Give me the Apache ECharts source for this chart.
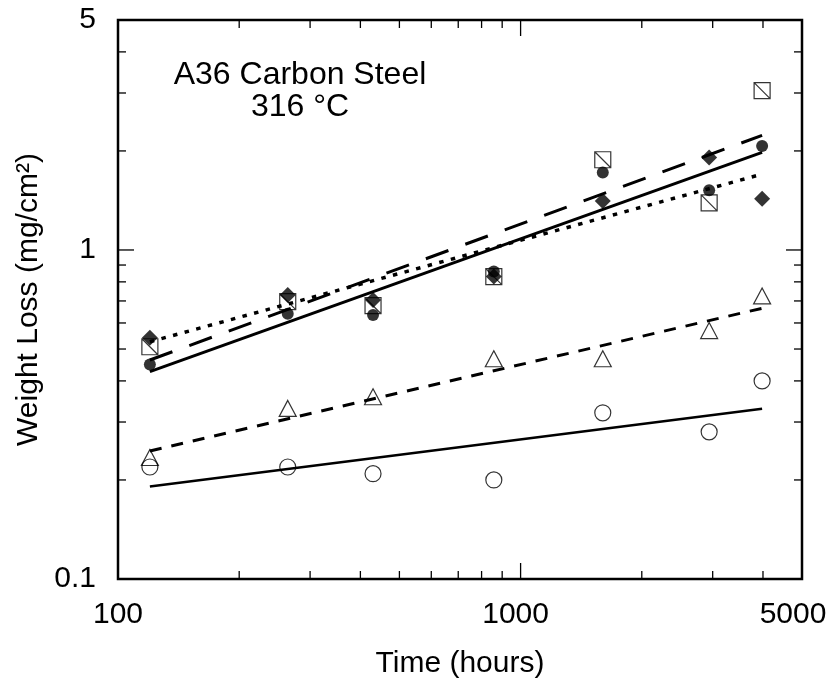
<!DOCTYPE html>
<html><head><meta charset="utf-8">
<script src="https://cdn.jsdelivr.net/npm/echarts@6/dist/echarts.min.js"></script>
<style>html,body{margin:0;padding:0;background:#fff}#c{width:835px;height:687px}</style>
</head><body><div id="c"></div>
<script>
// ---- data ----
const times = [120, 264, 430, 858, 1600, 2940, 3980];
const filledCircle  = [0.449, 0.640, 0.634, 0.86, 1.72, 1.52, 2.07];
const filledDiamond = [0.541, 0.730, 0.705, 0.83, 1.41, 1.91, 1.43];
const squareDiag    = [0.508, 0.697, 0.677, 0.83, 1.88, 1.39, 3.05];
const openTriangle  = [0.234, 0.330, 0.358, 0.467, 0.467, 0.569, 0.725];
const openCircle    = [0.219, 0.219, 0.209, 0.200, 0.320, 0.280, 0.400];

const fitTimes = [120, 3980];
const fitFilledCircle  = [0.427, 1.98];  // solid
const fitSquareDiag    = [0.463, 2.23];  // long dash
const fitFilledDiamond = [0.526, 1.70];  // dotted
const fitOpenTriangle  = [0.245, 0.665]; // short dash
const fitOpenCircle    = [0.191, 0.329]; // solid (thin)

const xMajorTicks = [1000];
const xMinorTicks = [200, 300, 400, 500, 600, 700, 800, 900, 2000, 3000, 4000];
const yMajorTicks = [1];
const yMinorTicks = [0.2, 0.3, 0.4, 0.5, 0.6, 0.7, 0.8, 0.9, 2, 3, 4];

const titleLines = ['A36 Carbon Steel', '316 °C'];
const xName = 'Time (hours)';
const yName = 'Weight Loss (mg/cm²)';

// ---- chart ----
const FONT = '"Liberation Sans", Arial, Helvetica, sans-serif';
const chart = echarts.init(document.getElementById('c'), null, {renderer: 'canvas'});
const pairs = (xs, ys) => xs.map((x, i) => [x, ys[i]]);

const tickData = [].concat(
  xMajorTicks.map(v => [v, 1, 0, 16]),
  xMinorTicks.map(v => [v, 1, 0, 8]),
  yMajorTicks.map(v => [1000, v, 1, 16]),
  yMinorTicks.map(v => [1000, v, 1, 8])
);

function renderTick(params, api) {
  const cs = params.coordSys;
  const kind = api.value(2), len = api.value(3);
  const p = api.coord([api.value(0), api.value(1)]);
  const st = {stroke: '#000', lineWidth: 1.3};
  if (kind === 0) {
    const x = p[0], b = cs.y + cs.height, t = cs.y;
    return {type: 'group', children: [
      {type: 'line', shape: {x1: x, y1: b, x2: x, y2: b - len}, style: st},
      {type: 'line', shape: {x1: x, y1: t, x2: x, y2: t + len}, style: st}
    ]};
  }
  const y = p[1], l = cs.x, r = cs.x + cs.width;
  return {type: 'group', children: [
    {type: 'line', shape: {x1: l, y1: y, x2: l + len, y2: y}, style: st},
    {type: 'line', shape: {x1: r, y1: y, x2: r - len, y2: y}, style: st}
  ]};
}

const lbl = {fontSize: 30, fontFamily: FONT, color: '#000'};
const openStyle = {color: 'transparent', borderColor: '#000', borderWidth: 1.2};
const fitLine = (ys, lw, type) => ({
  type: 'line', data: pairs(fitTimes, ys), symbol: 'none', silent: true,
  lineStyle: {color: '#000', width: lw, type: type}, z: 2
});

chart.setOption({
  animation: false,
  backgroundColor: '#fff',
  grid: {left: 118, right: 33, top: 20, bottom: 108, show: true, borderColor: '#000', borderWidth: 2.5},
  xAxis: {
    type: 'log', logBase: 10, min: 100, max: 5000,
    name: xName, nameLocation: 'middle', nameGap: 70,
    nameTextStyle: {fontSize: 30, fontFamily: FONT, color: '#000'},
    axisLine: {show: false}, axisTick: {show: false}, splitLine: {show: false},
    axisLabel: {
      margin: 21,
      formatter: v => {
        const r = Math.round(v);
        if (r === 1000) return '{m|' + r + '}';
        if (r === 5000) return '{e|' + r + '}';
        return '{n|' + r + '}';
      },
      rich: {
        n: lbl,
        m: Object.assign({padding: [0, 10, 0, 0]}, lbl),
        e: Object.assign({padding: [0, 18, 0, 0]}, lbl)
      }
    }
  },
  yAxis: {
    type: 'log', logBase: 10, min: 0.1, max: 5,
    name: yName, nameLocation: 'middle', nameGap: 72,
    nameTextStyle: {fontSize: 30, fontFamily: FONT, color: '#000'},
    axisLine: {show: false}, axisTick: {show: false}, splitLine: {show: false},
    axisLabel: {margin: 22, fontSize: 30, fontFamily: FONT, color: '#000',
      formatter: v => String(Math.round(v * 1000) / 1000)}
  },
  graphic: [{
    type: 'text', x: 300, y: 59, silent: true,
    style: {text: titleLines.join('\n'), align: 'center', verticalAlign: 'top',
      fontSize: 32, fontFamily: FONT, fill: '#000', lineHeight: 32}
  }],
  series: [
    {type: 'custom', renderItem: renderTick, data: tickData, encode: {x: 0, y: 1}, silent: true, z: 5},
    fitLine(fitFilledCircle, 3, 'solid'),
    fitLine(fitSquareDiag, 3, [24, 18]),
    fitLine(fitFilledDiamond, 3.5, [4.5, 7.5]),
    fitLine(fitOpenTriangle, 3, [12, 10]),
    fitLine(fitOpenCircle, 2.5, 'solid'),
    {type: 'scatter', data: pairs(times, filledCircle), symbol: 'circle', symbolSize: 12,
      itemStyle: {color: '#000'}, z: 3},
    {type: 'scatter', data: pairs(times, filledDiamond), symbol: 'diamond', symbolSize: 16,
      itemStyle: {color: '#000'}, z: 3},
    {type: 'scatter', data: pairs(times, squareDiag), symbol: 'path://M0,0L20,0L20,20L0,20Z M0,0L20,20',
      symbolSize: 16, itemStyle: openStyle, z: 4},
    {type: 'scatter', data: pairs(times, openTriangle), symbol: 'triangle', symbolSize: [17, 16],
      itemStyle: openStyle, z: 4},
    {type: 'scatter', data: pairs(times, openCircle), symbol: 'circle', symbolSize: 16,
      itemStyle: openStyle, z: 4}
  ]
});
</script></body></html>
